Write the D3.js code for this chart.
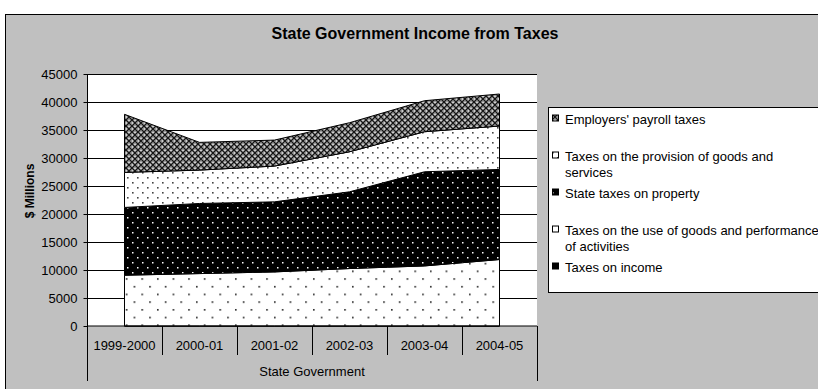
<!DOCTYPE html>
<html>
<head>
<meta charset="utf-8">
<script src="https://cdn.jsdelivr.net/npm/d3@7"></script>
<style>
  html, body { margin: 0; padding: 0; background: #ffffff; }
  svg { display: block; font-family: "Liberation Sans", Arial, sans-serif; }
</style>
</head>
<body>
<svg id="chart" width="818" height="389"></svg>
<script>
// ---- data ----
const categories = ["1999-2000", "2000-01", "2001-02", "2002-03", "2003-04", "2004-05"];
const incomeTaxes = [0, 0, 0, 0, 0, 0];
const useOfGoods = [9070, 9360, 9660, 10260, 10730, 11870];
const propertyTaxes = [12100, 12520, 12510, 13700, 16810, 16090];
const provisionTaxes = [6260, 5960, 6390, 7150, 7150, 7750];
const payrollTaxes = [10370, 4950, 4640, 5190, 5540, 5720];
const yTicks = [0, 5000, 10000, 15000, 20000, 25000, 30000, 35000, 40000, 45000];
const chartTitle = "State Government Income from Taxes";
const yTitle = "$ Millions";
const xGroupTitle = "State Government";
const seriesNames = {
  income: "Taxes on income",
  use: "Taxes on the use of goods and performance of activities",
  property: "State taxes on property",
  provision: "Taxes on the provision of goods and services",
  payroll: "Employers' payroll taxes"
};

const svg = d3.select("#chart");
const defs = svg.append("defs");

// ---- patterns ----
function pat(id, w, h, bg, dots, dotColor, ds) {
  const p = defs.append("pattern").attr("id", id).attr("patternUnits", "userSpaceOnUse")
    .attr("width", w).attr("height", h);
  p.append("rect").attr("width", w).attr("height", h).attr("fill", bg);
  dots.forEach(([dx, dy]) => p.append("rect").attr("x", dx).attr("y", dy)
    .attr("width", ds).attr("height", ds).attr("fill", dotColor));
}
pat("pUse", 15.6, 15.4, "#ffffff", [[1, 1], [8.8, 8.7]], "#222", 1.6);
pat("pProperty", 10, 10, "#000000", [[2, 2], [7, 7]], "#ffffff", 1.5);
pat("pProvision", 10, 10, "#ffffff", [[2, 2], [7, 7]], "#444", 1.6);
// crosshatch for payroll
(function () {
  const p = defs.append("pattern").attr("id", "pPayroll").attr("patternUnits", "userSpaceOnUse")
    .attr("width", 6).attr("height", 6);
  p.append("rect").attr("width", 6).attr("height", 6).attr("fill", "#9a9a9a");
  p.append("path").attr("d", "M0,0L6,6M6,0L0,6").attr("stroke", "#111").attr("stroke-width", 1.2);
  p.append("rect").attr("x", 2.3).attr("y", -0.5).attr("width", 1.4).attr("height", 1.4).attr("fill", "#eee");
  p.append("rect").attr("x", -0.5).attr("y", 2.3).attr("width", 1.4).attr("height", 1.4).attr("fill", "#eee");
})();

const fills = { income: "#000000", use: "url(#pUse)", property: "url(#pProperty)", provision: "url(#pProvision)", payroll: "url(#pPayroll)" };

// ---- panel ----
svg.append("rect").attr("x", 5.5).attr("y", 14.5).attr("width", 840).attr("height", 400)
  .attr("fill", "#c0c0c0").attr("stroke", "#000").attr("stroke-width", 1);

svg.append("text").attr("x", 415).attr("y", 39).attr("text-anchor", "middle")
  .attr("font-size", 16).attr("font-weight", "bold").text(chartTitle);

// ---- scales ----
const x = d3.scaleBand().domain(categories).range([87, 537]).padding(0);
const y = d3.scaleLinear().domain([0, 45000]).range([326, 74]);
const cx = c => x(c) + x.bandwidth() / 2;

// plot area
svg.append("rect").attr("x", 87).attr("y", 74).attr("width", 450).attr("height", 252).attr("fill", "#fff");

// gridlines
svg.append("g").selectAll("line").data(yTicks.filter(d => d > 0)).join("line")
  .attr("x1", 87).attr("x2", 537).attr("y1", d => Math.round(y(d)) + 0.5).attr("y2", d => Math.round(y(d)) + 0.5)
  .attr("stroke", "#000").attr("stroke-width", 1);

// ---- stacked areas ----
const rows = categories.map((c, i) => ({
  cat: c, income: incomeTaxes[i], use: useOfGoods[i], property: propertyTaxes[i],
  provision: provisionTaxes[i], payroll: payrollTaxes[i]
}));
const keys = ["income", "use", "property", "provision", "payroll"];
const stacked = d3.stack().keys(keys)(rows);
const area = d3.area().x(d => cx(d.data.cat)).y0(d => y(d[0])).y1(d => y(d[1]));
svg.append("g").selectAll("path").data(stacked).join("path")
  .attr("d", area).attr("fill", d => fills[d.key]).attr("stroke", "#000").attr("stroke-width", 1)
  .attr("stroke-linejoin", "miter");

// ---- y axis ----
const yAxis = d3.axisLeft(y).tickValues(yTicks).tickSize(4).tickPadding(6).tickFormat(d3.format("d"));
const gy = svg.append("g").attr("transform", "translate(87.5,0)").call(yAxis);
gy.select(".domain").remove();
gy.selectAll(".tick line").attr("stroke", "#000");
gy.selectAll(".tick text").attr("font-size", 13).attr("fill", "#000")
  .attr("font-family", "Liberation Sans, Arial, sans-serif");
svg.append("line").attr("x1", 87.5).attr("x2", 87.5).attr("y1", 74).attr("y2", 381).attr("stroke", "#000");

svg.append("text").attr("transform", "translate(34,191) rotate(-90)").attr("text-anchor", "middle")
  .attr("font-size", 12).attr("font-weight", "bold").text(yTitle);

// ---- x axis (multi-level) ----
svg.append("line").attr("x1", 87).attr("x2", 537).attr("y1", 326).attr("y2", 326).attr("stroke", "#000");
const bounds = categories.map(c => x(c)).concat([x.range()[1]]);
svg.append("g").selectAll("line").data(bounds).join("line")
  .attr("x1", d => Math.round(d) + 0.5).attr("x2", d => Math.round(d) + 0.5)
  .attr("y1", 326).attr("y2", (d, i) => (i === 0 || i === bounds.length - 1) ? 381 : 355)
  .attr("stroke", "#000");
svg.append("g").selectAll("text").data(categories).join("text")
  .attr("x", d => cx(d)).attr("y", 349.5).attr("text-anchor", "middle").attr("font-size", 13).text(d => d);
svg.append("text").attr("x", 312).attr("y", 376).attr("text-anchor", "middle").attr("font-size", 13).text(xGroupTitle);

// ---- legend ----
svg.append("rect").attr("x", 548.5).attr("y", 107.5).attr("width", 300).attr("height", 185)
  .attr("fill", "#fff").attr("stroke", "#000");
const legendItems = [
  { key: "payroll", lines: ["Employers' payroll taxes"] },
  { key: "provision", lines: ["Taxes on the provision of goods and", "services"] },
  { key: "property", lines: ["State taxes on property"] },
  { key: "use", lines: ["Taxes on the use of goods and performance", "of activities"] },
  { key: "income", lines: ["Taxes on income"] }
];
const lg = svg.append("g");
legendItems.forEach((it, i) => {
  const top = 123.5 + i * 37;
  lg.append("rect").attr("x", 552.5).attr("y", top - 8.5).attr("width", 6).attr("height", 6)
    .attr("fill", fills[it.key]).attr("stroke", "#000");
  const t = lg.append("text").attr("x", 565).attr("y", top).attr("font-size", 13);
  it.lines.forEach((l, j) => t.append("tspan").attr("x", 565).attr("dy", j === 0 ? 0 : 16.5).text(l));
});
</script>
</body>
</html>
